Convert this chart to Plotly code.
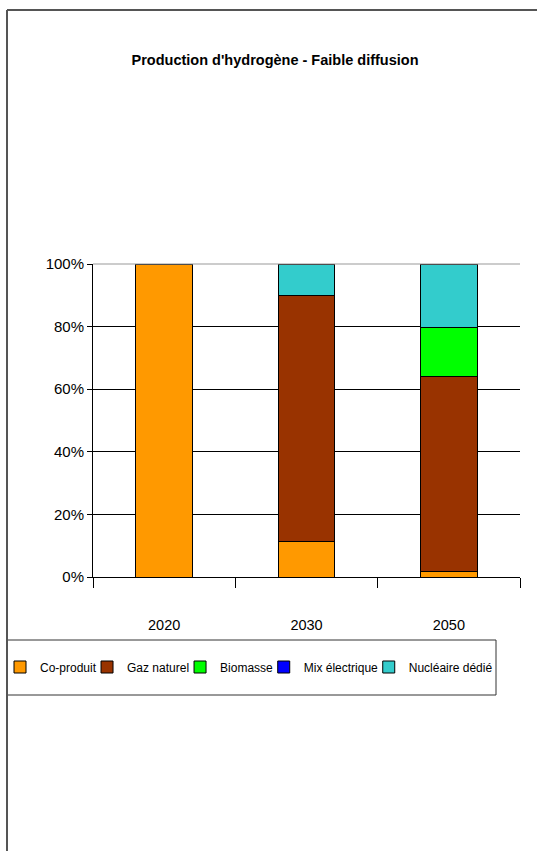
import plotly.graph_objects as go

W, H = 537, 851
years = ["2020", "2030", "2050"]
series_names = ["Co-produit", "Gaz naturel", "Biomasse", "Mix électrique", "Nucléaire dédié"]
co_produit = [100, 11.4, 1.6]
gaz_naturel = [0, 78.6, 62.6]
biomasse = [0, 0, 15.5]
mix_electrique = [0, 0, 0]
nucleaire = [0, 10, 20.3]
colors = ["#FF9900", "#993300", "#00FF00", "#0000FF", "#33CCCC"]
y_ticks = [0, 20, 40, 60, 80, 100]
y_tick_labels = ["0%", "20%", "40%", "60%", "80%", "100%"]

FONT = "Liberation Sans, Arial, sans-serif"
LEG_SIZE = 12
# approximate text widths (Arial metrics, em units) used to tighten legend spacing
leg_em = [4.668, 5.169, 4.390, 6.168, 6.969]
leg_widths = [e * LEG_SIZE - 14 for e in leg_em[:-1]] + [leg_em[-1] * LEG_SIZE]

fig = go.Figure()
for name, vals, col, lw in zip(series_names,
                               [co_produit, gaz_naturel, biomasse, mix_electrique, nucleaire],
                               colors, leg_widths):
    fig.add_trace(go.Bar(
        x=years, y=vals, name=name,
        marker=dict(color=col, line=dict(color="black", width=1)),
        width=0.4, legendwidth=lw,
    ))

def px_x(x):
    return x / W

def px_y(y):
    return 1 - y / H

fig.update_layout(
    barmode="stack",
    width=W, height=H,
    margin=dict(l=0, r=0, t=0, b=0, autoexpand=False),
    paper_bgcolor="white", plot_bgcolor="white",
    font=dict(family=FONT, color="black", size=14),
    title=dict(text="<b>Production d'hydrogène - Faible diffusion</b>",
               x=275 / W, xanchor="center", y=px_y(60), yanchor="middle",
               font=dict(family=FONT, size=14.5, color="black")),
    xaxis=dict(domain=[px_x(93), px_x(520)], showline=True, linecolor="black", linewidth=1,
               ticks="outside", ticklen=10, tickcolor="black", tickson="boundaries",
               ticklabelstandoff=35, tickfont=dict(size=14.5, family=FONT),
               showgrid=False, automargin=False),
    yaxis=dict(domain=[px_y(577), px_y(264)], range=[0, 100], tickvals=y_ticks, ticktext=y_tick_labels,
               showline=True, linecolor="black", linewidth=1, ticks="outside", ticklen=5,
               tickcolor="black", showgrid=True, gridcolor="black", gridwidth=1,
               tickfont=dict(size=15, family=FONT), zeroline=False, automargin=False),
    legend=dict(orientation="h", x=0, xanchor="left", y=px_y(667), yanchor="middle",
                borderwidth=0, bgcolor="rgba(0,0,0,0)",
                font=dict(size=LEG_SIZE, family=FONT), traceorder="normal",
                itemwidth=30, tracegroupgap=0),
    showlegend=True,
    shapes=[
        dict(type="line", xref="paper", yref="paper", x0=px_x(7), x1=px_x(7), y0=0, y1=px_y(10),
             line=dict(color="#555555", width=2)),
        dict(type="line", xref="paper", yref="paper", x0=px_x(7), x1=1, y0=px_y(10), y1=px_y(10),
             line=dict(color="#555555", width=2)),
        dict(type="line", xref="paper", yref="paper", x0=px_x(93), x1=px_x(520), y0=px_y(264), y1=px_y(264),
             line=dict(color="#999999", width=1)),
        dict(type="rect", xref="paper", yref="paper", x0=px_x(7), x1=px_x(496), y0=px_y(695), y1=px_y(640),
             line=dict(color="#333333", width=1), layer="below"),
    ],
)

fig.write_html("out.html", config={"displayModeBar": False},
               post_script="document.body.style.margin='0';")
